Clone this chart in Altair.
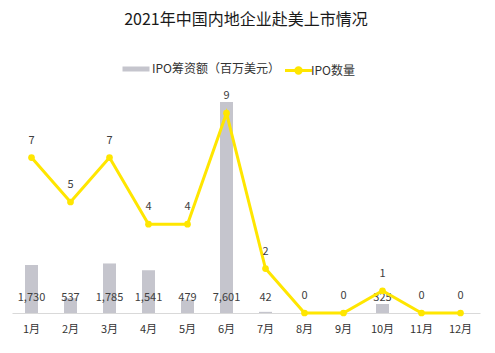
import altair as alt
import pandas as pd

months = ["1月", "2月", "3月", "4月", "5月", "6月", "7月", "8月", "9月", "10月", "11月", "12月"]
amount = [1730, 537, 1785, 1541, 479, 7601, 42, 0, 0, 325, 0, 0]
count = [7, 5, 7, 4, 4, 9, 2, 0, 0, 1, 0, 0]
bar_name = "IPO筹资额（百万美元）"
line_name = "IPO数量"

df = pd.DataFrame({"month": months, "amount": amount, "count": count,
                   "bar_s": bar_name, "line_s": line_name, "zero": 0})
bar_df = df[df["amount"] > 0]

FONT = "Noto Sans CJK SC"
GRAY = "#C5C5CD"
YELLOW = "#FFE600"

x = alt.X("month:N", sort=months, title=None,
          scale=alt.Scale(paddingInner=0, paddingOuter=0),
          axis=alt.Axis(labelAngle=0, ticks=False, domainColor="#D9D9D9",
                        labelColor="#333333", labelFontSize=11, labelPadding=10, labelFont=FONT))

ybar = alt.Y("amount:Q", scale=alt.Scale(domain=[0, 8000]), axis=None)
bars = alt.Chart(bar_df).mark_bar(size=13).encode(
    x=x, y=ybar,
    color=alt.Color("bar_s:N", scale=alt.Scale(range=[GRAY]),
                    legend=alt.Legend(title=None, orient="none", legendX=117, legendY=-29,
                                      symbolType="M-2,-0.37L2,-0.37L2,0.37L-2,0.37Z",
                                      symbolSize=182, symbolStrokeWidth=0, padding=0,
                                      labelOffset=9,
                                      labelFontSize=12, labelFont=FONT, labelColor="#333333")))
bar_text = alt.Chart(bar_df).mark_text(dy=-15, fontSize=11, font=FONT, color="#404040").encode(
    x=x, y=alt.Y("zero:Q", scale=alt.Scale(domain=[0, 8000]), axis=None),
    text=alt.Text("amount:Q", format=","))

yline = alt.Y("count:Q", scale=alt.Scale(domain=[0, 10]), axis=None)
line = alt.Chart(df).mark_line(strokeWidth=3, point=alt.OverlayMarkDef(filled=True, size=45, color=YELLOW)).encode(
    x=x, y=yline,
    color=alt.Color("line_s:N", scale=alt.Scale(range=[YELLOW]),
                    legend=alt.Legend(title=None, orient="none", legendX=278, legendY=-29,
                                      symbolType="M-2,0L2,0M0.4,0A0.4,0.4 0 1,1 -0.4,0A0.4,0.4 0 1,1 0.4,0",
                                      symbolSize=182, symbolStrokeWidth=3, padding=0,
                                      labelOffset=4,
                                      symbolFillColor=YELLOW, symbolStrokeColor=YELLOW,
                                      labelFontSize=12, labelFont=FONT, labelColor="#333333")))
line_text = alt.Chart(df).mark_text(dy=-17, fontSize=11, font=FONT, color="#404040").encode(
    x=x, y=yline, text=alt.Text("count:Q"))

chart = alt.layer(alt.layer(bars, bar_text), alt.layer(line, line_text)).resolve_scale(
    y="independent", color="independent"
).properties(
    width=468, height=222,
    autosize=alt.AutoSizeParams(type="none"),
    padding={"left": 12, "top": 91, "right": 15, "bottom": 40},
    title=alt.TitleParams("2021年中国内地企业赴美上市情况", fontSize=16, font=FONT,
                          fontWeight="normal", color="#1a1a1a", anchor="middle", offset=34),
).configure_view(stroke=None)

chart.save("out.html", embed_options={"renderer": "svg", "actions": False})
